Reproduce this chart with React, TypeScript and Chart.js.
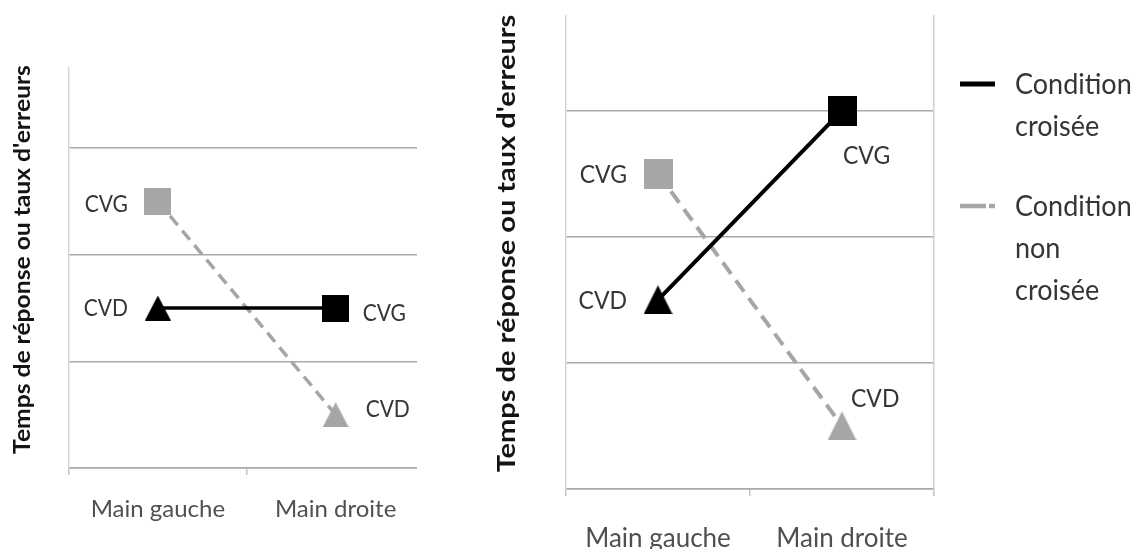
import React, { useEffect, useRef } from 'react';
import { Chart, registerables } from 'chart.js';

Chart.register(...registerables);

// ---------- data ----------
const categories = ['Main gauche', 'Main droite'];
const axisTitle = "Temps de réponse ou taux d'erreurs";
const legendCroisee = ['Condition', 'croisée'];
const legendNonCroisee = ['Condition', 'non', 'croisée'];

const leftCroisee = [1.5, 1.5];
const leftNonCroisee = [2.5, 0.5];
const rightCroisee = [1.5, 3];
const rightNonCroisee = [2.5, 0.5];

const croiseeLabels = ['CVD', 'CVG'];
const nonCroiseeLabels = ['CVG', 'CVD'];
const croiseeShapes = ['triangle', 'square'];
const nonCroiseeShapes = ['square', 'triangle'];

const yMin = 0;
const yMax = 3.75;
const yStep = 1;

// ---------- styles ----------
const BLACK = '#000000';
const GRAY = '#a6a6a6';
const FONT = 'Lato, "Open Sans", sans-serif';

function makeMarker(shape: string, color: string, w: number, h: number) {
  const c = document.createElement('canvas');
  c.width = w;
  c.height = h;
  const ctx = c.getContext('2d')!;
  ctx.fillStyle = color;
  if (shape === 'square') {
    ctx.fillRect(0, 0, w, h);
  } else {
    ctx.beginPath();
    ctx.moveTo(w / 2, 0);
    ctx.lineTo(w, h);
    ctx.lineTo(0, h);
    ctx.closePath();
    ctx.fill();
  }
  return c;
}

function titlePlugin(p: any) {
  return {
    id: 'yTitleCustom',
    afterDraw(chart: any) {
      const { ctx, chartArea } = chart;
      ctx.save();
      ctx.font = p.font;
      ctx.fillStyle = '#141414';
      ctx.textAlign = 'center';
      ctx.textBaseline = 'middle';
      ctx.translate(p.x, (chartArea.top + chartArea.bottom) / 2 + p.dy);
      ctx.rotate(-Math.PI / 2);
      ctx.scale(p.stretch, 1);
      ctx.fillText(axisTitle, 0, 0);
      ctx.restore();
    },
  };
}

function pointLabelPlugin(labels: string[][], offsets: number[][][], font: string, sy: number) {
  return {
    id: 'pointLabelsCustom',
    afterDatasetsDraw(chart: any) {
      const ctx = chart.ctx;
      chart.data.datasets.forEach((_: any, di: number) => {
        chart.getDatasetMeta(di).data.forEach((pt: any, i: number) => {
          const [dx, dy, side] = offsets[di][i];
          ctx.save();
          ctx.font = font;
          ctx.fillStyle = '#353535';
          ctx.textBaseline = 'middle';
          ctx.textAlign = side < 0 ? 'right' : 'left';
          ctx.translate(pt.x + dx, pt.y + dy);
          ctx.scale(1, sy);
          ctx.fillText(labels[di][i], 0, 0);
          ctx.restore();
        });
      });
    },
  };
}

function legendPlugin(p: any) {
  const texts = [legendCroisee, legendNonCroisee];
  return {
    id: 'sideLegendCustom',
    afterDraw(chart: any) {
      const ctx = chart.ctx;
      chart.data.datasets.forEach((ds: any, i: number) => {
        const y = p.y[i];
        ctx.save();
        ctx.strokeStyle = ds.borderColor;
        ctx.lineWidth = p.lineWidth[i];
        ctx.lineCap = 'butt';
        ctx.setLineDash(p.dash[i]);
        ctx.beginPath();
        ctx.moveTo(p.x0, y + p.symbolDy);
        ctx.lineTo(p.x1, y + p.symbolDy);
        ctx.stroke();
        ctx.setLineDash([]);
        ctx.font = p.font;
        ctx.fillStyle = '#353535';
        ctx.textAlign = 'left';
        ctx.textBaseline = 'middle';
        texts[i].forEach((line, k) => {
          ctx.save();
          ctx.translate(p.textX, y + k * p.lineHeight);
          ctx.scale(1, p.sy);
          ctx.fillText(line, 0, 0);
          ctx.restore();
        });
        ctx.restore();
      });
    },
  };
}

function makeChart(canvas: HTMLCanvasElement, p: any) {
  const markers = (shapes: string[], color: string) =>
    shapes.map((s) =>
      s === 'square' ? makeMarker(s, color, p.sqW, p.sqH) : makeMarker(s, color, p.triW, p.triH)
    );
  const plugins: any[] = [
    titlePlugin(p.title),
    pointLabelPlugin([croiseeLabels, nonCroiseeLabels], p.labelOffsets, p.labelFont, p.labelSy),
  ];
  if (p.legend) plugins.push(legendPlugin(p.legend));
  return new Chart(canvas, {
    type: 'line',
    data: {
      labels: categories,
      datasets: [
        {
          label: legendCroisee.join(' '),
          data: p.croisee,
          borderColor: BLACK,
          backgroundColor: BLACK,
          borderWidth: p.lineW,
          pointStyle: markers(croiseeShapes, BLACK) as any,
          pointRadius: 12,
          pointHoverRadius: 12,
          tension: 0,
          fill: false,
        },
        {
          label: legendNonCroisee.join(' '),
          data: p.non,
          borderColor: GRAY,
          backgroundColor: GRAY,
          borderWidth: p.lineW,
          borderDash: p.dash,
          borderCapStyle: 'butt',
          pointStyle: markers(nonCroiseeShapes, GRAY) as any,
          pointRadius: 12,
          pointHoverRadius: 12,
          tension: 0,
          fill: false,
        },
      ],
    },
    options: {
      responsive: false,
      animation: false,
      events: [],
      layout: { padding: p.padding },
      plugins: { legend: { display: false }, tooltip: { enabled: false } },
      scales: {
        x: {
          type: 'category',
          offset: true,
          grid: {
            offset: true,
            drawOnChartArea: false,
            drawTicks: true,
            tickLength: 7,
            color: '#c4c4c4',
            lineWidth: 1.5,
          },
          border: { display: true, color: '#a9a9a9', width: 1.5 },
          ticks: {
            color: '#505050',
            font: { family: FONT, size: p.tickSize },
            padding: p.tickPad,
            maxRotation: 0,
            autoSkip: false,
          },
          afterFit: (s: any) => {
            s.height = p.xHeight;
          },
        },
        y: {
          min: yMin,
          max: yMax,
          ticks: { display: false, stepSize: yStep, includeBounds: false },
          grid: { drawTicks: false, color: '#a9a9a9', lineWidth: 1.5 },
          border: { display: true, color: '#d6d6d6', width: 1.5 },
          afterFit: (s: any) => {
            s.width = 0;
          },
        },
        y2: {
          position: 'right',
          display: true,
          min: yMin,
          max: yMax,
          ticks: { display: false },
          grid: { drawOnChartArea: false, drawTicks: false },
          border: { display: true, color: '#d0d0d0', width: 1.5 },
          afterFit: (s: any) => {
            s.width = 0;
          },
        },
      },
    } as any,
    plugins,
  });
}

export default function App() {
  const leftRef = useRef<HTMLCanvasElement>(null);
  const rightRef = useRef<HTMLCanvasElement>(null);

  useEffect(() => {
    const left = makeChart(leftRef.current!, {
      croisee: leftCroisee,
      non: leftNonCroisee,
      padding: { left: 69, top: 68, right: 9, bottom: 0 },
      xHeight: 81,
      tickSize: 24,
      tickPad: 20,
      lineW: 3.5,
      dash: [12, 7],
      sqW: 27,
      sqH: 27,
      triW: 26,
      triH: 25,
      labelFont: `21px ${FONT}`,
      labelSy: 1.12,
      labelOffsets: [
        [[-30, 0, -1], [27, 5, 1]],
        [[-30, 3, -1], [30, -5, 1]],
      ],
      title: { x: 23, dy: -8.5, font: `bold 22px ${FONT}`, stretch: 1.12 },
    });
    const right = makeChart(rightRef.current!, {
      croisee: rightCroisee,
      non: rightNonCroisee,
      padding: { left: 76, top: 13, right: 211, bottom: 0 },
      xHeight: 60,
      tickSize: 26,
      tickPad: 27,
      lineW: 4,
      dash: [14, 8],
      sqW: 29,
      sqH: 30,
      triW: 29,
      triH: 29,
      labelFont: `23px ${FONT}`,
      labelSy: 1.12,
      labelOffsets: [
        [[-31, 1, -1], [1, 45, 1]],
        [[-31, 1, -1], [9, -27, 1]],
      ],
      title: { x: 17, dy: -9, font: `bold 25px ${FONT}`, stretch: 1.16 },
      legend: {
        x0: 470,
        x1: 505,
        y: [85, 207],
        symbolDy: -1,
        lineWidth: [5, 4.5],
        dash: [[], [26, 3]],
        textX: 525,
        lineHeight: 42,
        font: `27px ${FONT}`,
        sy: 1.05,
      },
    });
    return () => {
      left.destroy();
      right.destroy();
    };
  }, []);

  return (
    <div style={{ position: 'absolute', left: 0, top: 0, width: 1145, height: 549, background: '#ffffff', overflow: 'hidden' }}>
      <div style={{ position: 'absolute', left: 0, top: 0, width: 417, height: 549, overflow: 'hidden' }}>
        <canvas ref={leftRef} width={440} height={549} style={{ display: 'block' }} />
      </div>
      <div style={{ position: 'absolute', left: 490, top: 0, width: 655, height: 549, overflow: 'hidden' }}>
        <canvas ref={rightRef} width={655} height={549} style={{ display: 'block' }} />
      </div>
    </div>
  );
}
